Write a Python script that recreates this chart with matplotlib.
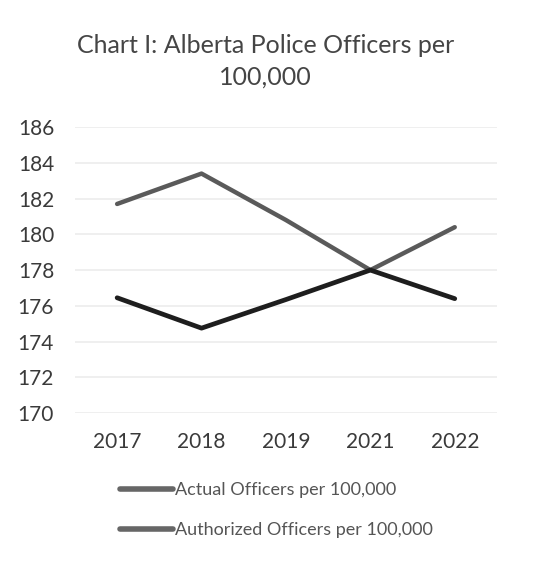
import matplotlib.pyplot as plt
import numpy as np
from matplotlib.lines import Line2D

plt.rcParams['font.family'] = ['Lato', 'DejaVu Sans']

years = ['2017', '2018', '2019', '2021', '2022']
actual = [176.45, 174.75, 176.35, 178.0, 176.4]
authorized = [181.7, 183.4, 180.8, 178.0, 180.4]

fig = plt.figure(figsize=(5.39, 5.65), dpi=100)
ax = fig.add_axes([0.139, 0.269, 0.783, 0.506])

x = np.arange(len(years))
ax.plot(x, authorized, color='#5a5a5a', lw=3.2, solid_capstyle='round', zorder=3)
ax.plot(x, actual, color='#1e1e1e', lw=3.4, solid_capstyle='round', zorder=4)

ax.set_xlim(-0.5, len(years) - 0.5)
ax.set_ylim(170, 186)
ax.set_yticks(np.arange(170, 187, 2))
ax.set_xticks(x, years)
ax.grid(axis='y', color='#ececec', lw=1.2)
ax.set_axisbelow(True)
for s in ax.spines.values():
    s.set_visible(False)
ax.tick_params(length=0, labelsize=15, colors='#3a3a3a')
ax.tick_params(axis='y', pad=15)
ax.tick_params(axis='x', pad=14)

fig.text(0.492, 0.892, 'Chart I: Alberta Police Officers per\n100,000', ha='center', va='center',
         fontsize=18, color='#454545', linespacing=1.45)

# legend as drawn in the scan (both keys grey)
handles = [Line2D([], [], color='#666666', lw=4, solid_capstyle='round'),
           Line2D([], [], color='#666666', lw=4, solid_capstyle='round')]
fig.legend(handles, ['Actual Officers per 100,000', 'Authorized Officers per 100,000'],
           loc='upper left', bbox_to_anchor=(0.21, 0.16), frameon=False,
           fontsize=13, labelcolor='#555555', handlelength=2.9, handletextpad=0.1,
           labelspacing=1.35, borderaxespad=0)

fig.savefig('out.png', dpi=100)
